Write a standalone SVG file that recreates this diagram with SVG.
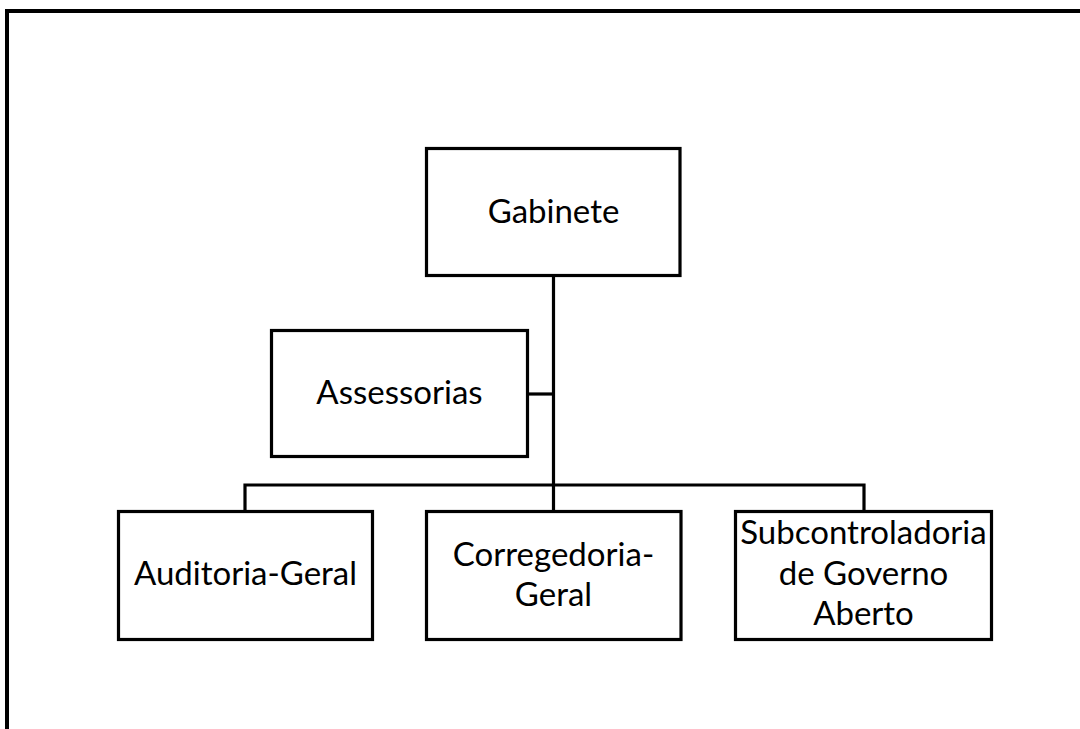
<svg xmlns="http://www.w3.org/2000/svg" width="1080" height="729" viewBox="0 0 1080 729">
  <style>
    .box { fill: #ffffff; stroke: #000000; stroke-width: 3.2; }
    .link { fill: none; stroke: #000000; stroke-width: 3.2; }
    .frame { fill: none; stroke: #000000; stroke-width: 4; }
    .label { font-family: Lato, "Open Sans", "Liberation Sans", sans-serif; font-size: 33px; fill: #000000; text-anchor: middle; }
  </style>
  <rect width="1080" height="729" fill="#ffffff"/>
  <!-- outer frame: top and left edges -->
  <path class="frame" d="M7 729 V11 H1080"/>

  <g id="connectors">
    <path class="link" d="M553.5 275.5 V511.5"/>
    <path class="link" d="M527.5 394 H553.5"/>
    <path class="link" d="M245 511.5 V485 H864 V511.5"/>
  </g>

  <g id="gabinete">
    <rect class="box" x="426.5" y="148.5" width="253.5" height="127"/>
    <text class="label" x="553.5" y="223">Gabinete</text>
  </g>
  <g id="assessorias">
    <rect class="box" x="271.5" y="330.5" width="256" height="126"/>
    <text class="label" x="399.5" y="404">Assessorias</text>
  </g>
  <g id="auditoria-geral">
    <rect class="box" x="118.5" y="511.5" width="254" height="128"/>
    <text class="label" x="245.5" y="585">Auditoria-Geral</text>
  </g>
  <g id="corregedoria-geral">
    <rect class="box" x="426.5" y="511.5" width="254.5" height="128"/>
    <text class="label" x="553.5" y="566">Corregedoria-</text>
    <text class="label" x="553.5" y="606">Geral</text>
  </g>
  <g id="subcontroladoria">
    <rect class="box" x="735.5" y="511.5" width="256" height="128"/>
    <text class="label" x="863.5" y="544">Subcontroladoria</text>
    <text class="label" x="863.5" y="585">de Governo</text>
    <text class="label" x="863.5" y="625">Aberto</text>
  </g>
</svg>
